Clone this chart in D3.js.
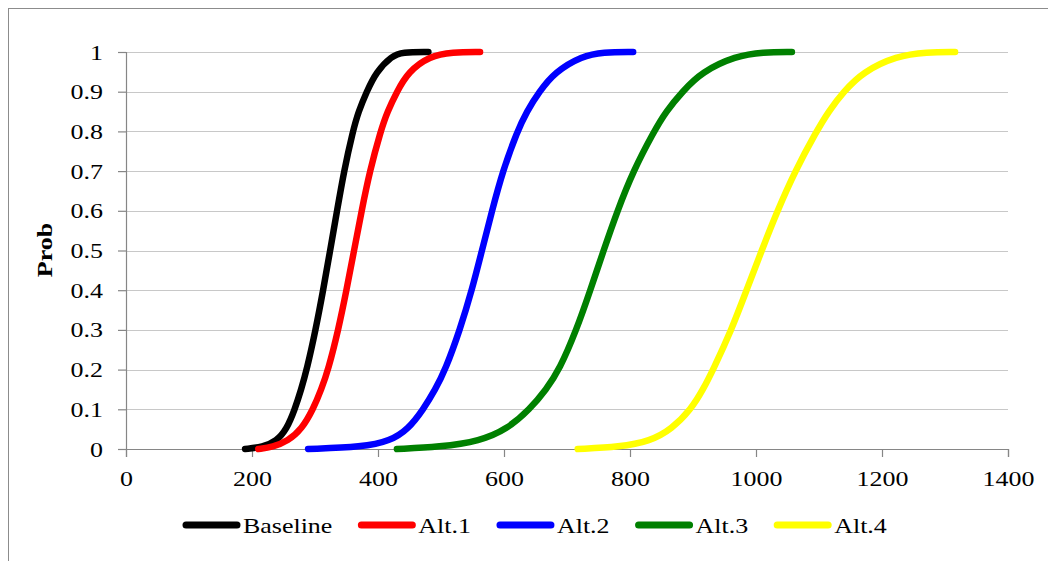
<!DOCTYPE html>
<html>
<head>
<meta charset="utf-8">
<script src="https://cdn.jsdelivr.net/npm/d3@7"></script>
<style>
  html, body { margin: 0; padding: 0; background: #fff; }
  svg { display: block; }
</style>
</head>
<body>
<svg id="chart" width="1048" height="561"></svg>
<script>
// ---- data ----
const probs    = [0, 0.005, 0.02, 0.05, 0.1, 0.15, 0.2, 0.3, 0.4, 0.5, 0.6, 0.7, 0.8, 0.85, 0.9, 0.95, 0.99, 1, 1];
const baseline = [189, 217, 239, 255, 268, 278, 287, 301, 313, 324, 335, 346, 360, 369, 382, 397, 422, 438, 480];
const alt1     = [210, 233, 257, 279, 297, 310, 321, 337, 350, 362, 374, 387, 404, 415, 430, 448, 482, 518, 562];
const alt2     = [289, 376, 419, 448, 472, 491, 507, 530, 549, 565, 581, 598, 621, 636, 656, 681, 724, 757, 805];
const alt3     = [430, 498, 562, 605, 641, 667, 688, 715, 737, 758, 780, 805, 838, 857, 883, 914, 968, 1011, 1057];
const alt4     = [717, 784, 832, 866, 897, 916, 932, 961, 985, 1009, 1034, 1062, 1096, 1115, 1139, 1170, 1223, 1271, 1316];
const seriesNames  = ["Baseline", "Alt.1", "Alt.2", "Alt.3", "Alt.4"];
const seriesColors = ["#000000", "#ff0000", "#0000ff", "#008000", "#ffff00"];
const xTicks = [0, 200, 400, 600, 800, 1000, 1200, 1400];
const yTicks = [0, 0.1, 0.2, 0.3, 0.4, 0.5, 0.6, 0.7, 0.8, 0.9, 1];
const yTitle = "Prob";

const seriesX = [baseline, alt1, alt2, alt3, alt4];
const series = seriesNames.map((name, i) => ({
  name, color: seriesColors[i],
  points: seriesX[i].map((x, j) => ({ x, p: probs[j] }))
}));

// ---- layout ----
const svg = d3.select("#chart");
const FONT = "'Liberation Serif', 'Times New Roman', serif";
const SX = 1.18; // horizontal stretch of the reference text

const x = d3.scaleLinear().domain([0, 1400]).range([126, 1008]);
const y = d3.scaleLinear().domain([0, 1]).range([449, 52]);

// outer chart border
svg.append("rect")
  .attr("x", 8.5).attr("y", 8.5).attr("width", 1100).attr("height", 600)
  .attr("fill", "none").attr("stroke", "#8c8c8c").attr("stroke-width", 1);

// gridlines
svg.append("g").selectAll("line").data(yTicks.filter(d => d > 0)).join("line")
  .attr("x1", x(0)).attr("x2", x(1400))
  .attr("y1", d => Math.round(y(d)) + 0.5).attr("y2", d => Math.round(y(d)) + 0.5)
  .attr("stroke", "#c8c8c8").attr("stroke-width", 1);

// y axis
const yAxisG = svg.append("g").attr("transform", `translate(${x(0)},0)`)
  .call(d3.axisLeft(y).tickValues(yTicks).tickFormat(d3.format("~g")).tickSize(8).tickPadding(15));
// x axis
const xAxisG = svg.append("g").attr("transform", `translate(0,${y(0)})`)
  .call(d3.axisBottom(x).tickValues(xTicks).tickFormat(d3.format("d")).tickSize(8).tickPadding(13));

[yAxisG, xAxisG].forEach(g => {
  g.attr("font-family", null).attr("font-size", null);
  g.select(".domain").attr("stroke", "#868686").attr("stroke-width", 1.2);
  g.selectAll(".tick line").attr("stroke", "#868686").attr("stroke-width", 1.2);
  g.selectAll(".tick text")
    .attr("fill", "#000")
    .style("font-family", FONT).style("font-size", "22px");
});
yAxisG.selectAll(".tick text").each(function() {
  const t = d3.select(this);
  const tx = +t.attr("x");
  t.attr("x", 0).attr("transform", `translate(${tx},0) scale(${SX},1)`);
});
xAxisG.selectAll(".tick text").attr("transform", `scale(${SX},1)`);

// y title
svg.append("text")
  .attr("transform", `translate(52,250) rotate(-90) scale(${SX},1)`)
  .attr("text-anchor", "middle")
  .style("font-family", FONT).style("font-size", "22px").style("font-weight", "bold")
  .text(yTitle);

// series lines
const line = d3.line().x(d => x(d.x)).y(d => y(d.p)).curve(d3.curveBasis);
svg.append("g").selectAll("path").data(series).join("path")
  .attr("d", d => line(d.points))
  .attr("fill", "none")
  .attr("stroke", d => d.color)
  .attr("stroke-width", 6.5)
  .attr("stroke-linecap", "round")
  .attr("stroke-linejoin", "round");

// legend
const legend = svg.append("g");
let lx = 186;
const ly = 525;
series.forEach(s => {
  legend.append("line")
    .attr("x1", lx).attr("x2", lx + 51).attr("y1", ly).attr("y2", ly)
    .attr("stroke", s.color).attr("stroke-width", 7).attr("stroke-linecap", "round");
  const t = legend.append("text")
    .attr("transform", `translate(${lx + 57},${ly + 8}) scale(${SX},1)`)
    .style("font-family", FONT).style("font-size", "22px")
    .text(s.name);
  const w = t.node().getComputedTextLength() * SX;
  lx += 57 + w + 29;
});
</script>
</body>
</html>
